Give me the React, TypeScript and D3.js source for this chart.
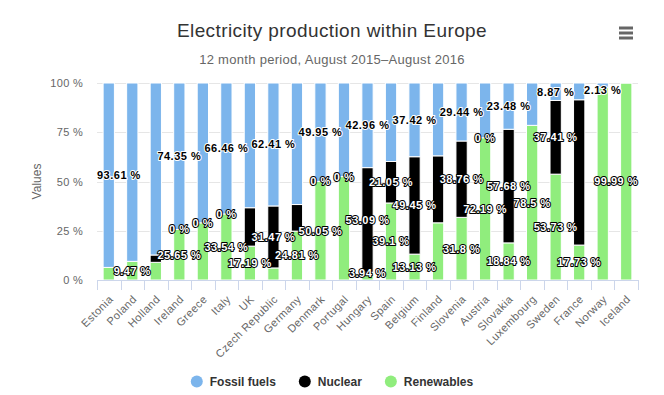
import React, { useRef, useEffect } from 'react';
import * as d3 from 'd3';

const countries = [
  'Estonia', 'Poland', 'Holland', 'Ireland', 'Greece', 'Italy', 'UK', 'Czech Republic',
  'Germany', 'Denmark', 'Portugal', 'Hungary', 'Spain', 'Belgium', 'Finland', 'Slovenia',
  'Austria', 'Slovakia', 'Luxembourg', 'Sweden', 'France', 'Norway', 'Iceland',
];
const fossilFuels = [93.61, 90.53, 87.31, 74.35, 70.98, 66.46, 63.31, 62.41, 61.69, 49.95, 47.52, 42.96, 39.85, 37.42, 36.97, 29.44, 27.81, 23.48, 21.5, 8.87, 8.5, 2.13, 0.01];
const nuclear = [0, 0, 3.72, 0, 0, 0, 19.5, 31.47, 13.5, 0, 0, 53.09, 21.05, 49.45, 34, 38.76, 0, 57.68, 0, 37.41, 73.77, 0, 0];
const renewables = [6.39, 9.47, 8.97, 25.65, 29.02, 33.54, 17.19, 6.12, 24.81, 50.05, 52.48, 3.94, 39.1, 13.13, 29.03, 31.8, 72.19, 18.84, 78.5, 53.73, 17.73, 97.87, 99.99];

const seriesNames = ['Fossil fuels', 'Nuclear', 'Renewables'];
const seriesValues = [fossilFuels, nuclear, renewables];
const seriesColors = ['#7cb5ec', '#000000', '#90ed7d'];
const yTicks = [0, 25, 50, 75, 100];

const title = 'Electricity production within Europe';
const subtitle = '12 month period, August 2015\u2013August 2016';

const App: React.FC = () => {
  const svgRef = useRef<SVGSVGElement>(null);

  useEffect(() => {
    const svg = d3.select(svgRef.current);
    svg.selectAll('*').remove();

    const width = 664;
    const height = 395;
    const plot = { left: 97, right: 638, top: 83, bottom: 280 };
    const font = '"Liberation Sans", Arial, Helvetica, sans-serif';

    svg.append('rect').attr('width', width).attr('height', height).attr('fill', '#fff');

    const x = d3.scaleBand<string>().domain(countries).range([plot.left, plot.right]);
    const y = d3.scaleLinear().domain([0, 1]).range([plot.bottom, plot.top]);
    const barWidth = x.bandwidth() * 0.48;

    // Titles
    svg.append('text')
      .attr('x', width / 2).attr('y', 36.5)
      .attr('text-anchor', 'middle')
      .style('font-family', font).style('font-size', '19px').style('letter-spacing', '0.4px')
      .style('fill', '#333333')
      .text(title);

    svg.append('text')
      .attr('x', width / 2).attr('y', 64)
      .attr('text-anchor', 'middle')
      .style('font-family', font).style('font-size', '13px').style('letter-spacing', '0.3px')
      .style('fill', '#666666')
      .text(subtitle);

    // Menu button
    const menu = svg.append('g').attr('transform', 'translate(626,33)');
    [-5, 0, 5].forEach(dy => {
      menu.append('line')
        .attr('x1', -7).attr('x2', 7).attr('y1', dy).attr('y2', dy)
        .attr('stroke', '#666').attr('stroke-width', 3);
    });

    // Grid
    svg.append('g')
      .selectAll('line')
      .data(yTicks.filter(t => t > 0))
      .join('line')
      .attr('x1', plot.left).attr('x2', plot.right)
      .attr('y1', d => Math.round(y(d / 100)) + 0.5)
      .attr('y2', d => Math.round(y(d / 100)) + 0.5)
      .attr('stroke', '#e6e6e6');

    // Y labels
    svg.append('g')
      .selectAll('text')
      .data(yTicks)
      .join('text')
      .attr('x', 83)
      .attr('y', d => y(d / 100) + 4)
      .attr('text-anchor', 'end')
      .style('font-family', font).style('font-size', '11px').style('letter-spacing', '0.3px')
      .style('fill', '#666666')
      .text(d => `${d} %`);

    svg.append('text')
      .attr('transform', `translate(41,${(plot.top + plot.bottom) / 2}) rotate(-90)`)
      .attr('text-anchor', 'middle')
      .style('font-family', font).style('font-size', '12px')
      .style('fill', '#666666')
      .text('Values');

    // Stacked percent columns
    const rows = countries.map((c, i) => {
      const r: Record<string, any> = { country: c };
      seriesNames.forEach((s, k) => { r[s] = seriesValues[k][i]; });
      return r;
    });
    const stack = d3.stack<Record<string, any>>()
      .keys([...seriesNames].reverse())
      .offset(d3.stackOffsetExpand);
    const layers = stack(rows);

    const bars = svg.append('g');
    layers.forEach(layer => {
      const color = seriesColors[seriesNames.indexOf(layer.key)];
      bars.selectAll(null)
        .data(layer)
        .join('rect')
        .attr('x', d => x(d.data.country)! + x.bandwidth() / 2 - barWidth / 2)
        .attr('y', d => y(d[1]))
        .attr('width', barWidth)
        .attr('height', d => Math.max(0, y(d[0]) - y(d[1])))
        .attr('fill', color)
        .attr('stroke', '#ffffff')
        .attr('stroke-width', 1);
    });

    // X axis
    svg.append('line')
      .attr('x1', plot.left).attr('x2', plot.right)
      .attr('y1', plot.bottom + 0.5).attr('y2', plot.bottom + 0.5)
      .attr('stroke', '#ccd6eb');

    const boundaries = [...countries.map(c => x(c)!), plot.right];
    svg.append('g')
      .selectAll('line')
      .data(boundaries)
      .join('line')
      .attr('x1', d => Math.round(d) + 0.5).attr('x2', d => Math.round(d) + 0.5)
      .attr('y1', plot.bottom).attr('y2', plot.bottom + 10)
      .attr('stroke', '#ccd6eb');

    svg.append('g')
      .selectAll('text')
      .data(countries)
      .join('text')
      .attr('transform', d => `translate(${x(d)! + x.bandwidth() / 2 + 5},300) rotate(-45)`)
      .attr('text-anchor', 'end')
      .style('font-family', font).style('font-size', '11px').style('letter-spacing', '0.4px')
      .style('fill', '#666666')
      .text(d => d);

    // Data labels (with overlap hiding)
    type Label = { node: SVGTextElement; cx: number; cy: number; w: number; rank: number; hidden: boolean };
    const labelLayer = svg.append('g');
    const labels: Label[] = [];
    seriesNames.forEach((name, k) => {
      const layer = layers.find(l => l.key === name)!;
      const dark = k > 0;
      layer.forEach((d, i) => {
        const raw = seriesValues[k][i];
        const top = y(d[1]);
        const bottom = y(d[0]);
        const t = labelLayer.append('text')
          .attr('text-anchor', 'middle')
          .style('font-family', font).style('font-size', '11px').style('font-weight', 'bold')
          .style('letter-spacing', '0.5px')
          .style('fill', dark ? '#ffffff' : '#000000')
          .style('stroke', dark ? '#000000' : '#ffffff')
          .style('stroke-width', 2)
          .style('stroke-linejoin', 'round')
          .style('paint-order', 'stroke')
          .text(`${raw} %`);
        const node = t.node() as SVGTextElement;
        const w = node.getComputedTextLength();
        let cx = x(d.data.country)! + x.bandwidth() / 2;
        let cy = (top + bottom) / 2;
        if (cx - w / 2 < plot.left) cx = plot.left + w / 2;
        if (cx + w / 2 > plot.right) cx = plot.right - w / 2;
        if (cy - 7 < plot.top) cy = plot.top + 7;
        if (cy + 7 > plot.bottom) cy = plot.bottom - 7;
        t.attr('x', cx).attr('y', cy + 3.9);
        labels.push({ node, cx, cy, w, rank: bottom - top, hidden: false });
      });
    });

    const sorted = [...labels].sort((a, b) => b.rank - a.rank);
    const h = 14;
    for (let i = 0; i < sorted.length; i++) {
      const a = sorted[i];
      for (let j = i + 1; j < sorted.length; j++) {
        const b = sorted[j];
        if (a.hidden || b.hidden) continue;
        const overlap =
          a.cx - a.w / 2 < b.cx + b.w / 2 && b.cx - b.w / 2 < a.cx + a.w / 2 &&
          a.cy - h / 2 < b.cy + h / 2 && b.cy - h / 2 < a.cy + h / 2;
        if (overlap) (a.rank < b.rank ? a : b).hidden = true;
      }
    }
    labels.forEach(l => { if (l.hidden) d3.select(l.node).remove(); });

    // Legend
    const legend = svg.append('g');
    let cursor = 0;
    seriesNames.forEach((name, k) => {
      const item = legend.append('g').attr('transform', `translate(${cursor},0)`);
      item.append('circle').attr('cx', 6).attr('cy', 0).attr('r', 6).attr('fill', seriesColors[k]);
      const txt = item.append('text')
        .attr('x', 19).attr('y', 4.5)
        .style('font-family', font).style('font-size', '12px').style('font-weight', 'bold')
        .style('fill', '#333333')
        .text(name);
      const tw = (txt.node() as SVGTextElement).getComputedTextLength();
      cursor += 19 + tw + (k < seriesNames.length - 1 ? 23 : 0);
    });
    legend.attr('transform', `translate(${width / 2 - cursor / 2},381.5)`);
  }, []);

  return (
    <svg
      ref={svgRef}
      width={664}
      height={395}
      style={{ position: 'absolute', left: 0, top: 0, display: 'block' }}
    />
  );
};

export default App;
